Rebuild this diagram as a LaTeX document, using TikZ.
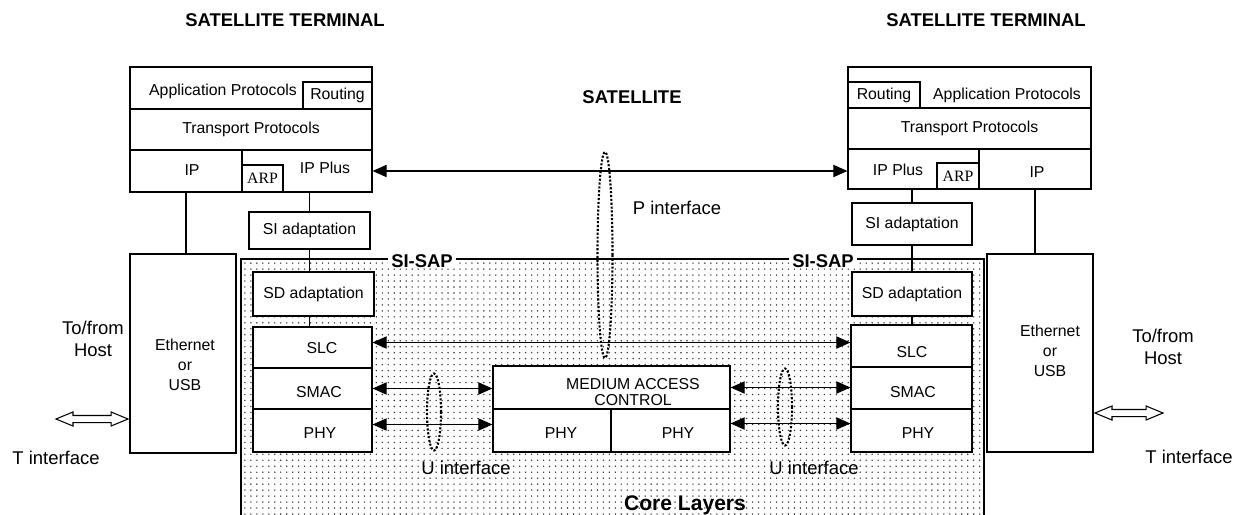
\documentclass[tikz,border=0pt]{standalone}
\usepackage{fontspec}
\setmainfont{Liberation Sans}
\newfontfamily\arpfont{Liberation Serif}
\usetikzlibrary{arrows.meta,shapes.geometric,shapes.arrows,patterns,calc}
\pgfdeclarepatternformonly{coredots}{\pgfqpoint{-0.5pt}{-0.5pt}}{\pgfqpoint{1pt}{1pt}}{\pgfqpoint{3.4pt}{3.4pt}}%
  {\pgfpathcircle{\pgfqpoint{0pt}{0pt}}{.45pt}\pgfusepath{fill}}

\begin{document}
\begin{tikzpicture}[x=0.02cm,y=-0.02cm,>={Triangle[length=8pt,width=7pt]},
    sz/.style 2 args={minimum width=#1*0.02cm,minimum height=#2*0.02cm},
    layer/.style={draw,line width=0.7pt,fill=white,inner sep=0pt,font=\fontsize{9}{10}\selectfont},
    tag box/.style={draw,line width=1.3pt,fill=white,inner sep=0pt,font=\fontsize{9}{10}\selectfont},
    txt/.style={inner sep=0pt,align=center,font=\fontsize{9}{11.3}\selectfont},
    lbl/.style={inner sep=0pt,align=center,font=\fontsize{10.5}{12.5}\selectfont},
    head/.style={inner sep=0pt,font=\fontsize{10.5}{12}\selectfont\bfseries},
    link/.style={line width=0.6pt},
    iface/.style={draw,ellipse,densely dotted,line width=1.2pt,inner sep=0pt},
    host arrow/.style={draw,double arrow,line width=0.6pt,fill=white,inner xsep=0pt,inner ysep=3*0.02cm,
      text height=0pt,text depth=0pt,double arrow head extend=3.5*0.02cm,double arrow tip angle=45}]
  \fill[white] (0,0) rectangle (1233,514);
  \useasboundingbox (0,0) rectangle (1233,514);

  % core layers area
  \node[draw,line width=0.6pt,pattern=coredots,pattern color=black!80,sz={743}{261}] (core) at (612.5,389.5) {};
  \node[head,fill=white,inner xsep=2pt] (sapL) at (422,261) {SI-SAP};
  \node[head,fill=white,inner xsep=2pt] (sapR) at (823,261) {SI-SAP};
  \node[inner sep=0pt,font=\fontsize{12}{14}\selectfont\bfseries] (corel) at (685,505) {Core Layers};

  % titles
  \node[head] (termL) at (285,20) {SATELLITE TERMINAL};
  \node[head] (termR) at (986,20) {SATELLITE TERMINAL};
  \node[head] (sat) at (632,97) {SATELLITE};

  % left terminal
  \node[layer,sz={242}{42}] (appL) at (251,88) {};
  \node[layer,sz={242}{41}] (trnL) at (251,129.5) {Transport Protocols};
  \node[layer,sz={112}{42}] (ipL) at (186,171) {};
  \node[layer,sz={130}{42}] (ipplusL) at (307,171) {};
  \node[tag box,sz={69}{27}] (routL) at (337.5,95.5) {Routing};
  \node[tag box,sz={41}{27},font=\arpfont\fontsize{9}{10}\selectfont] (arpL) at (262.5,178.5) {ARP};
  \node[layer,sz={121}{37}] (siL) at (309.5,230.5) {SI adaptation};
  \node[layer,sz={121}{44}] (sdL) at (313.5,294) {SD adaptation};
  \node[layer,sz={119}{41}] (slcL) at (312.5,347.5) {};
  \node[layer,sz={119}{41}] (smacL) at (312.5,388.5) {};
  \node[layer,sz={119}{43}] (phyL) at (312.5,430.5) {};
  \node[layer,sz={106}{199}] (ethL) at (183,353.5) {};

  % right terminal
  \node[layer,sz={243}{41}] (appR) at (969.5,87.5) {};
  \node[layer,sz={243}{41}] (trnR) at (969.5,128.5) {Transport Protocols};
  \node[layer,sz={131}{40}] (ipplusR) at (913.5,169) {};
  \node[layer,sz={112}{40}] (ipR) at (1035,169) {};
  \node[tag box,sz={72}{26}] (routR) at (884,95) {Routing};
  \node[tag box,sz={42}{26},font=\arpfont\fontsize{9}{10}\selectfont] (arpR) at (958,176) {ARP};
  \node[layer,sz={120}{42}] (siR) at (912,224) {SI adaptation};
  \node[layer,sz={120}{44}] (sdR) at (912,294) {SD adaptation};
  \node[layer,sz={121}{42}] (slcR) at (911.5,346) {};
  \node[layer,sz={121}{42}] (smacR) at (911.5,388) {};
  \node[layer,sz={121}{43}] (phyR) at (911.5,430.5) {};
  \node[layer,sz={106}{198}] (ethR) at (1040,353) {};

  % medium access control
  \node[layer,sz={237}{43}] (mac) at (611.5,387.5) {};
  \node[layer,sz={118}{43}] (phyA) at (552,430.5) {};
  \node[layer,sz={119}{43}] (phyB) at (670.5,430.5) {};

  % texts set off centre
  \foreach \n/\x/\y/\t in {appLt/223/91/Application Protocols, ipLt/192/170/IP, ipplusLt/325/168/IP Plus,
      slcLt/322/348/SLC, smacLt/319/392/SMAC, phyLt/320/433/PHY,
      appRt/1007/95/Application Protocols, ipRt/1037/172/IP, ipplusRt/898/170/IP Plus,
      slcRt/912/352/SLC, smacRt/913/392/SMAC, phyRt/918/433/PHY,
      phyAt/561/433/PHY, phyBt/678/433/PHY}
    \node[txt] (\n) at (\x,\y) {\t};
  \node[txt] (ethLt) at (185,365) {Ethernet\\or\\USB};
  \node[txt] (ethRt) at (1050,351) {Ethernet\\or\\USB};
  \node[txt,font=\fontsize{9}{9.6}\selectfont] (mact) at (633,392) {MEDIUM ACCESS\\CONTROL};

  % vertical links
  \draw[link] (siL.north) -- (siL.north |- ipplusL.south);
  \draw[link] (siL.south) -- (siL.south |- sdL.north);
  \draw[link] (siL.south |- sdL.south) -- (siL.south |- slcL.north);
  \draw[link] (ipL.south) -- (ipL.south |- ethL.north);
  \draw[link] (siR.north) -- (siR.north |- ipplusR.south);
  \draw[link] (siR.south) -- (siR.south |- sdR.north);
  \draw[link] (siR.south |- sdR.south) -- (siR.south |- slcR.north);
  \draw[link] (ipR.south) -- (ipR.south |- ethR.north);

  % peer arrows
  \draw[link,<->] (ipplusL.east) -- (ipplusL.east -| ipplusR.west);
  \draw[link,<->] ($(slcL.east)+(0,-5)$) -- ($(slcL.east -| slcR.west)+(0,-5)$);
  \draw[link,<->] (smacL.east) -- (smacL.east -| mac.west);
  \draw[link,<->] ($(phyL.east)+(0,-6)$) -- ($(phyL.east -| phyA.west)+(0,-6)$);
  \draw[link,<->] (mac.east) -- (mac.east -| smacR.west);
  \draw[link,<->] ($(phyB.east)+(0,-7)$) -- ($(phyB.east -| phyR.west)+(0,-7)$);

  % interfaces
  \node[iface,sz={15}{206}] (pif) at (605,255) {};
  \node[iface,sz={14}{77}] (uifL) at (434,412) {};
  \node[iface,sz={14}{77}] (uifR) at (785,407) {};
  \node[lbl] (pifl) at (677,208) {P interface};
  \node[lbl] (uifLl) at (466,468) {U interface};
  \node[lbl] (uifRl) at (814,468) {U interface};

  % host side
  \coordinate (tL) at (0,419);
  \coordinate (tR) at (0,413);
  \node[host arrow,minimum height=72*0.02cm,anchor=east] (harL) at (ethL.west |- tL) {};
  \node[host arrow,minimum height=68*0.02cm,anchor=west] (harR) at (ethR.east |- tR) {};
  \node[lbl] (hostL) at (93,339) {To/from\\Host};
  \node[lbl] (hostR) at (1163,347) {To/from\\Host};
  \node[lbl] (tifL) at (56,458) {T interface};
  \node[lbl] (tifR) at (1189,457) {T interface};
\end{tikzpicture}
\end{document}
